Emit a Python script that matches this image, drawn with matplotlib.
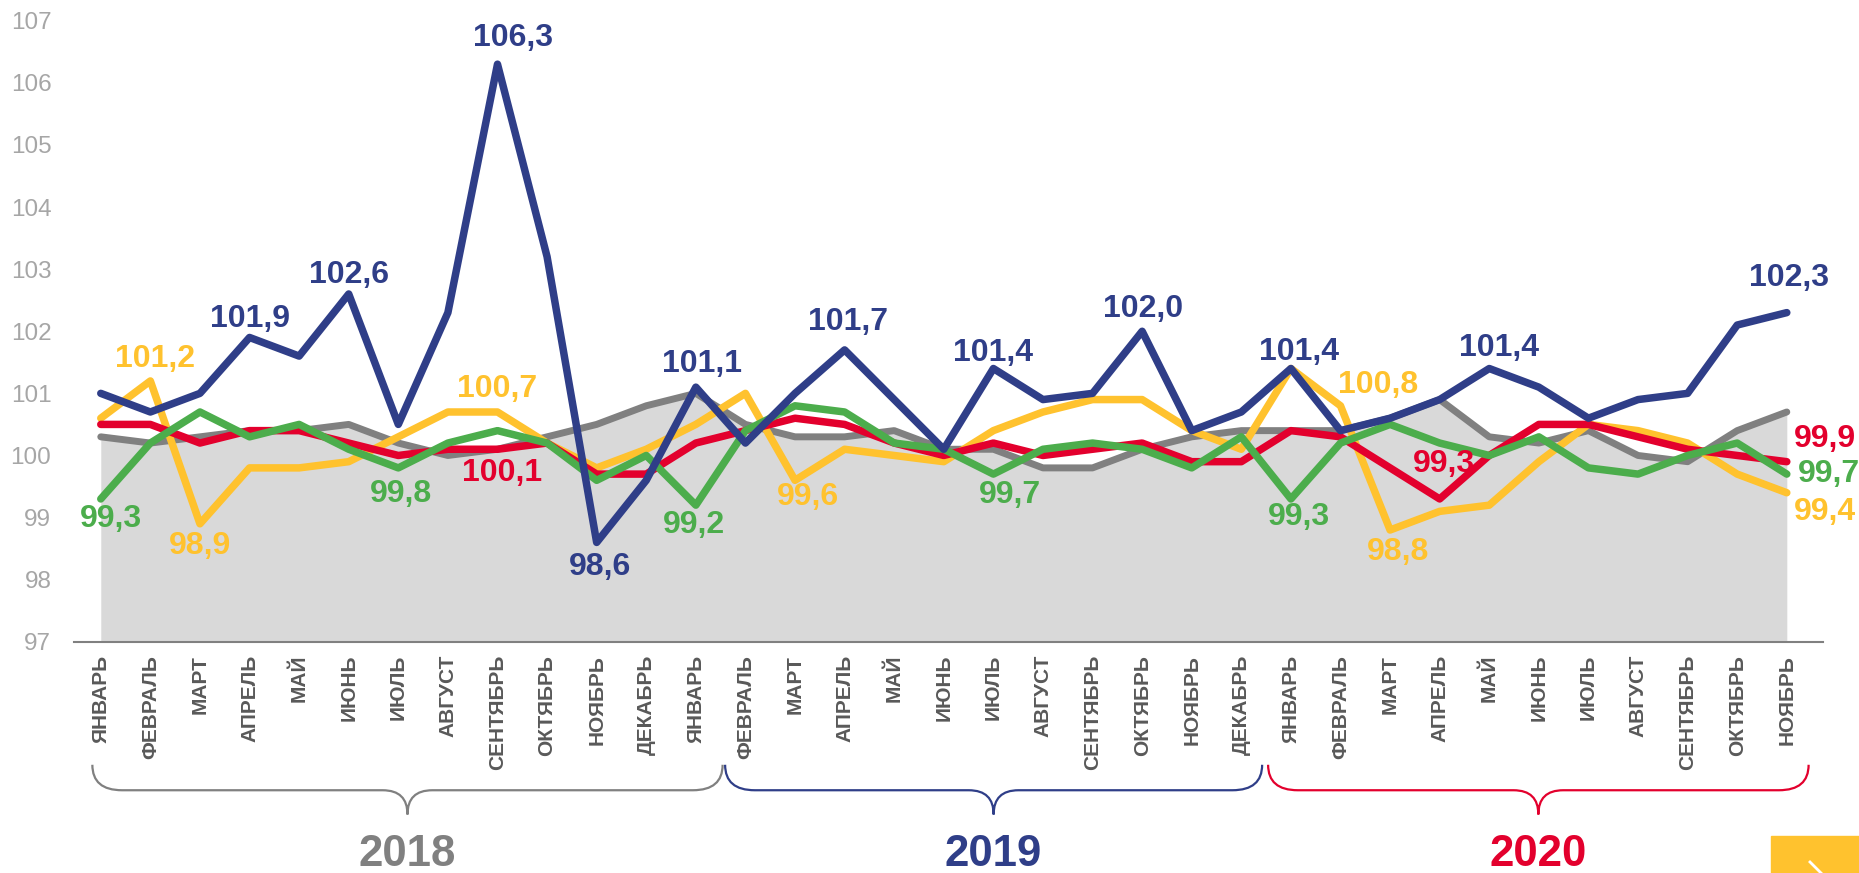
import matplotlib
matplotlib.use("Agg")
import matplotlib.pyplot as plt
from matplotlib.path import Path
from matplotlib.patches import PathPatch, Rectangle
from matplotlib.lines import Line2D
import matplotlib.transforms as mtransforms

plt.rcParams['font.family'] = ['Liberation Sans', 'DejaVu Sans']

# ---- data ----
MONTHS = ['ЯНВАРЬ', 'ФЕВРАЛЬ', 'МАРТ', 'АПРЕЛЬ', 'МАЙ', 'ИЮНЬ', 'ИЮЛЬ',
          'АВГУСТ', 'СЕНТЯБРЬ', 'ОКТЯБРЬ', 'НОЯБРЬ', 'ДЕКАБРЬ']
tick_labels = MONTHS + ['ЯНВАРЬ'] + MONTHS[1:] + MONTHS[:11]

years = ['2018', '2019', '2020']
year_first = [0, 13, 24]
year_last = [12, 23, 34]

gray_vals = [100.3, 100.2, 100.3, 100.4, 100.4, 100.5, 100.2, 100.0, 100.1, 100.3,
             100.5, 100.8, 101.0, 100.5, 100.3, 100.3, 100.4, 100.1, 100.1, 99.8,
             99.8, 100.1, 100.3, 100.4, 100.4, 100.4, 100.6, 100.9, 100.3, 100.2,
             100.4, 100.0, 99.9, 100.4, 100.7]
blue_vals = [101.0, 100.7, 101.0, 101.9, 101.6, 102.6, 100.5, 102.3, 106.3, 103.2,
             98.6, 99.6, 101.1, 100.2, 101.0, 101.7, 100.9, 100.1, 101.4, 100.9,
             101.0, 102.0, 100.4, 100.7, 101.4, 100.4, 100.6, 100.9, 101.4, 101.1,
             100.6, 100.9, 101.0, 102.1, 102.3]
yellow_vals = [100.6, 101.2, 98.9, 99.8, 99.8, 99.9, 100.3, 100.7, 100.7, 100.2,
               99.8, 100.1, 100.5, 101.0, 99.6, 100.1, 100.0, 99.9, 100.4, 100.7,
               100.9, 100.9, 100.4, 100.1, 101.4, 100.8, 98.8, 99.1, 99.2, 99.9,
               100.5, 100.4, 100.2, 99.7, 99.4]
red_vals = [100.5, 100.5, 100.2, 100.4, 100.4, 100.2, 100.0, 100.1, 100.1, 100.2,
            99.7, 99.7, 100.2, 100.4, 100.6, 100.5, 100.2, 100.0, 100.2, 100.0,
            100.1, 100.2, 99.9, 99.9, 100.4, 100.3, 99.8, 99.3, 100.0, 100.5,
            100.5, 100.3, 100.1, 100.0, 99.9]
green_vals = [99.3, 100.2, 100.7, 100.3, 100.5, 100.1, 99.8, 100.2, 100.4, 100.2,
              99.6, 100.0, 99.2, 100.4, 100.8, 100.7, 100.2, 100.1, 99.7, 100.1,
              100.2, 100.1, 99.8, 100.3, 99.3, 100.2, 100.5, 100.2, 100.0, 100.3,
              99.8, 99.7, 100.0, 100.2, 99.7]

# points that carry a value label: index -> (dx, dy) offset in pixels (dy down)
blue_labels = {3: (0, -18), 5: (0, -19), 8: (16, -26), 10: (3, 25), 12: (6, -23),
               15: (3, -28), 18: (0, -16), 21: (1, -22), 24: (8, -17),
               28: (10, -21), 34: (2, -35)}
yellow_labels = {1: (5, -22), 2: (0, 22), 8: (0, -23), 14: (13, 17),
                 25: (38, -21), 26: (8, 22), 34: (38, 19)}
red_labels = {8: (5, 24), 27: (4, -35), 34: (38, -23)}
green_labels = {0: (10, 20), 6: (3, 26), 12: (-2, 20), 18: (17, 21),
                24: (8, 18), 34: (42, 0)}

BLUE = '#2F3E88'
YELLOW = '#FFC22E'
RED = '#E3002D'
GREEN = '#4CAD4C'
GRAY = '#808080'
FILL = '#D9D9D9'
year_colors = [GRAY, BLUE, RED]

x = list(range(len(tick_labels)))

fig = plt.figure(figsize=(18.59, 8.73), dpi=100)
ax = fig.add_axes([73.5 / 1859, 231.2 / 873, 1749.5 / 1859, 621.1 / 873])

LW = 5.4
style = dict(solid_joinstyle='round', solid_capstyle='round')
ax.fill_between(x, 97, gray_vals, color=FILL, lw=0, zorder=1)
ax.plot(x, gray_vals, color=GRAY, lw=LW - 0.4, zorder=2, **style)
ax.plot(x, yellow_vals, color=YELLOW, lw=LW, zorder=3, **style)
ax.plot(x, red_vals, color=RED, lw=LW, zorder=4, **style)
ax.plot(x, green_vals, color=GREEN, lw=LW, zorder=5, **style)
ax.plot(x, blue_vals, color=BLUE, lw=LW, zorder=6, **style)


def put_labels(vals, labels, color):
    for i, (dx, dy) in labels.items():
        txt = f'{vals[i]:.1f}'.replace('.', ',')
        ax.annotate(txt, (x[i], vals[i]), xytext=(dx, -dy),
                    textcoords='offset pixels', ha='center', va='center',
                    fontsize=23, fontweight='bold', color=color,
                    zorder=7, annotation_clip=False)


put_labels(blue_vals, blue_labels, BLUE)
put_labels(yellow_vals, yellow_labels, YELLOW)
put_labels(red_vals, red_labels, RED)
put_labels(green_vals, green_labels, GREEN)

ax.set_xlim(-0.55, 34.73)
ax.set_ylim(97, 107)
ax.set_yticks(range(97, 108))
ax.set_xticks(x)
ax.set_xticklabels(tick_labels, rotation=90, va='top', ha='center',
                   fontsize=15, fontweight='bold', color='#595959')
ax.tick_params(axis='x', length=0, pad=9.5)
ax.tick_params(axis='y', length=0, pad=16, labelsize=17.5, labelcolor='#A6A6A6')
for side in ['left', 'right', 'top']:
    ax.spines[side].set_visible(False)
ax.spines['bottom'].set_color(GRAY)
ax.spines['bottom'].set_linewidth(1.5)
ax.spines['bottom'].set_zorder(8)

# year braces below the month labels
trans = mtransforms.blended_transform_factory(ax.transData, ax.transAxes)
y_top, y_mid, y_tip = -0.198, -0.239, -0.278
r_end, r_mid = 0.6, 0.5
pad_left = [0.17, 0.41, 0.46]
pad_right = [0.54, 0.42, 0.44]
for k, year in enumerate(years):
    col = year_colors[k]
    x0 = year_first[k] - pad_left[k]
    x1 = year_last[k] + pad_right[k]
    xc = (x0 + x1) / 2
    verts = [(x0, y_top), (x0, y_mid), (x0 + r_end, y_mid),
             (xc - r_mid, y_mid), (xc, y_mid), (xc, y_tip),
             (xc, y_mid), (xc + r_mid, y_mid),
             (x1 - r_end, y_mid), (x1, y_mid), (x1, y_top)]
    codes = [Path.MOVETO, Path.CURVE3, Path.CURVE3,
             Path.LINETO, Path.CURVE3, Path.CURVE3,
             Path.CURVE3, Path.CURVE3,
             Path.LINETO, Path.CURVE3, Path.CURVE3]
    ax.add_patch(PathPatch(Path(verts, codes), fill=False, edgecolor=col,
                           lw=1.6, transform=trans, clip_on=False))
    ax.text(xc, -0.343, year, transform=trans, ha='center', va='center',
            fontsize=31.5, fontweight='bold', color=col)

# navigation button in the corner
fig.patches.append(Rectangle((1771 / 1859, 0), 88 / 1859, 37 / 873,
                             transform=fig.transFigure, color=YELLOW, zorder=10))
fig.lines.append(Line2D([1810 / 1859, 1821 / 1859], [11 / 873, 0],
                        transform=fig.transFigure, color='white', lw=2, zorder=11))

fig.savefig('out.png', dpi=100)
